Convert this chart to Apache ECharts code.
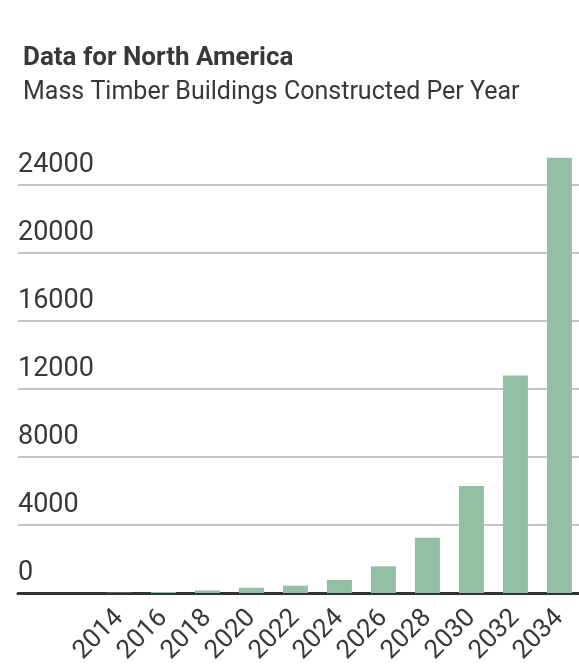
<!DOCTYPE html>
<html>
<head>
<meta charset="utf-8">
<script src="https://cdn.jsdelivr.net/npm/echarts@6/dist/echarts.min.js"></script>
<style>
  html, body { margin: 0; padding: 0; background: #fff; }
  #chart { width: 579px; height: 669px; }
</style>
</head>
<body>
<div id="chart"></div>
<script>
// data (every two years)
const years = [2014, 2016, 2018, 2020, 2022, 2024, 2026, 2028, 2030, 2032, 2034]
const built = [20, 60, 150, 310, 430, 770, 1570, 3250, 6300, 12800, 25600]
const yTicks = [0, 4000, 8000, 12000, 16000, 20000, 24000]

const textColor = '#383838'
const font = 'Roboto'

const myChart = echarts.init(document.getElementById('chart'))

myChart.setOption({
  backgroundColor: '#fff',
  animation: false,
  title: [{
    text: 'Data for North America',
    left: 18,
    top: 40,
    textStyle: { color: textColor, fontFamily: font, fontSize: 26, fontWeight: 'bold' }
  }, {
    text: 'Mass Timber Buildings Constructed Per Year',
    left: 18,
    top: 75,
    textStyle: { color: textColor, fontFamily: font, fontSize: 25, fontWeight: 'normal' }
  }],
  grid: {
    left: 18,
    right: 0,
    top: 185,
    bottom: 76
  },
  xAxis: {
    type: 'value',
    // pixel span of the plot: 22px per year, first bar centred at x≈119
    min: 2009.39,
    max: 2034.89,
    axisLine: { show: true, lineStyle: { color: '#333', width: 3 } },
    axisTick: { show: false },
    splitLine: { show: false },
    axisLabel: {
      customValues: years,
      rotate: 45,
      margin: 21,
      color: textColor,
      fontFamily: font,
      fontSize: 26,
      formatter: v => String(v)
    }
  },
  yAxis: {
    type: 'value',
    min: 0,
    max: 24000,
    interval: 4000,
    axisLine: { show: false },
    axisTick: { show: false },
    splitLine: { lineStyle: { color: '#c4c4c4', width: 2 } },
    axisLabel: {
      inside: true,
      margin: 0,
      verticalAlign: 'bottom',
      padding: [0, 0, 6, 0],
      color: textColor,
      fontFamily: font,
      fontSize: 27,
      formatter: v => yTicks.includes(v) ? String(v) : ''
    }
  },
  series: [{
    name: 'built',
    type: 'bar',
    clip: false,
    barWidth: 25,
    data: years.map((y, i) => [y, built[i]]),
    itemStyle: { color: '#92c0a3' },
    z: 1
  }]
})
</script>
</body>
</html>
